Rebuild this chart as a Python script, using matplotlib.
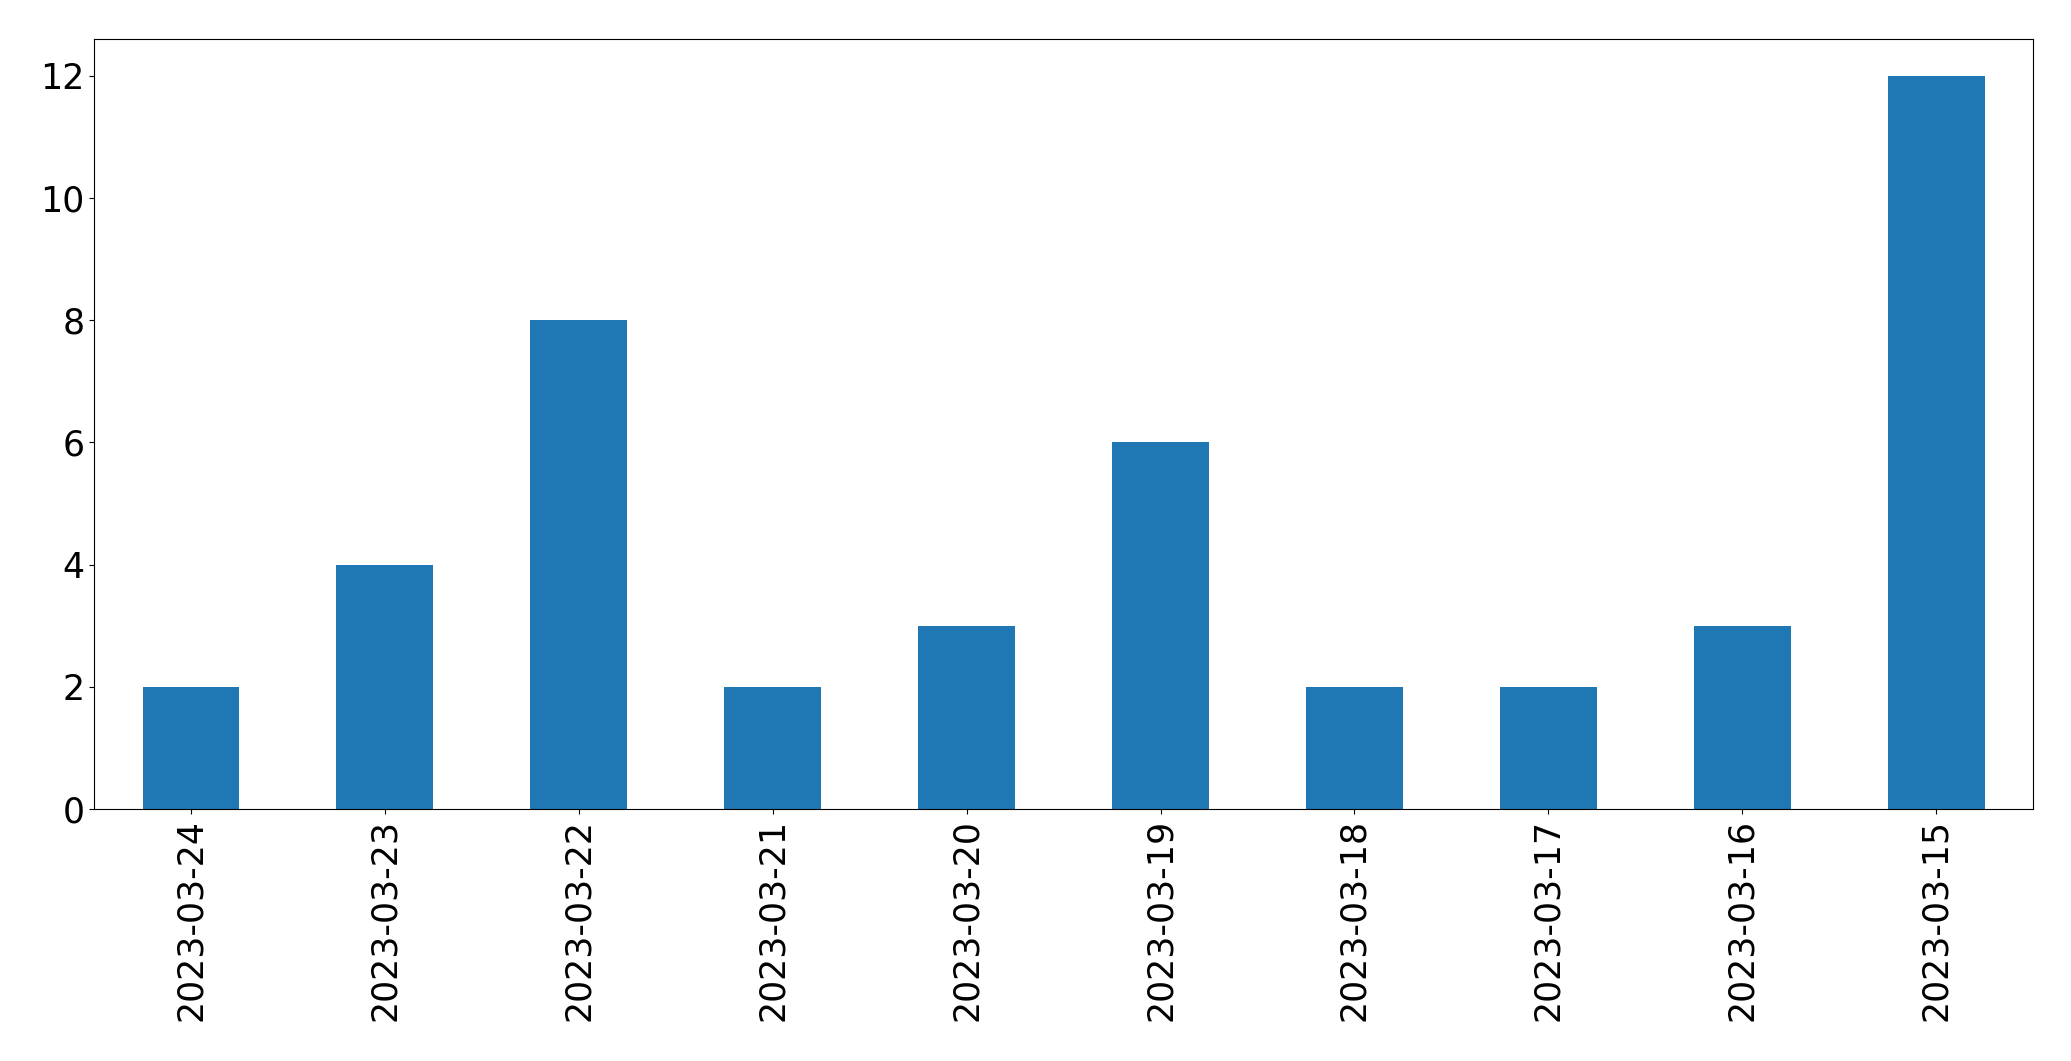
import matplotlib
matplotlib.use("Agg")
import matplotlib.pyplot as plt
import pandas as pd

dates = ["2023-03-24", "2023-03-23", "2023-03-22", "2023-03-21", "2023-03-20",
         "2023-03-19", "2023-03-18", "2023-03-17", "2023-03-16", "2023-03-15"]
counts = [2, 4, 8, 2, 3, 6, 2, 2, 3, 12]

s = pd.Series(counts, index=dates)

fig, ax = plt.subplots(figsize=(20.71, 10.61), dpi=100)
s.plot(kind="bar", ax=ax, color="#1f77b4")
ax.tick_params(axis="both", labelsize=25)
fig.subplots_adjust(left=0.0454, right=0.9817, top=0.9632, bottom=0.2375)
fig.savefig("out.png", dpi=100)
